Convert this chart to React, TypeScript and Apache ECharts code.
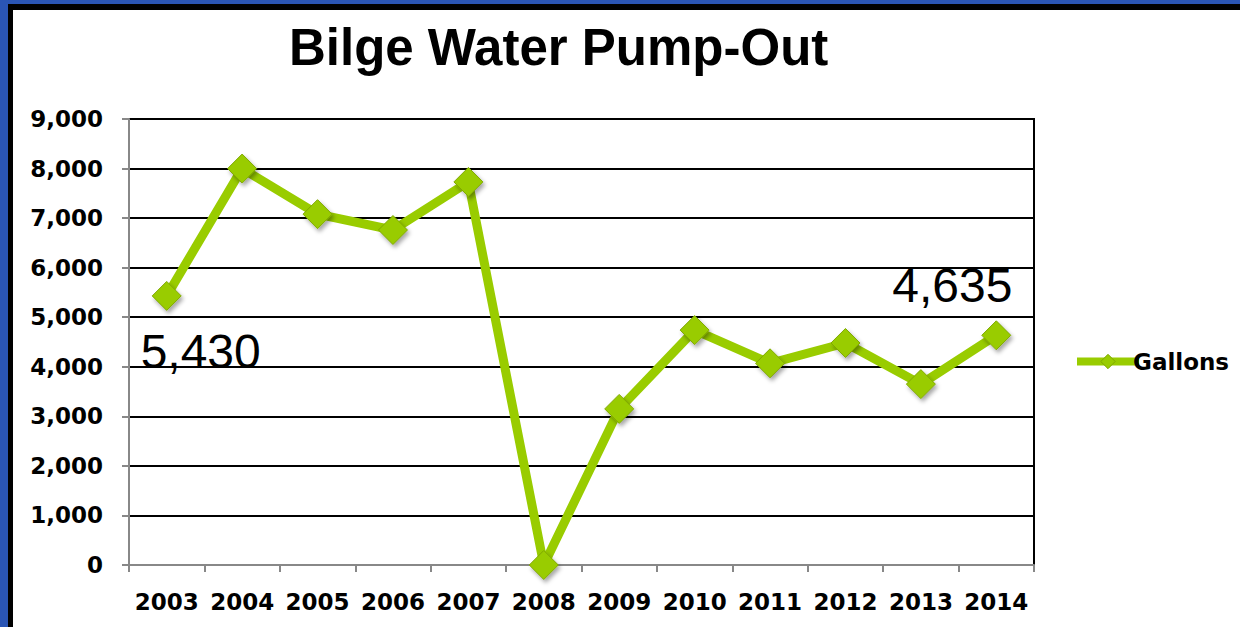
import React, { useEffect, useRef } from "react";
import * as echarts from "echarts";

const years = ["2003", "2004", "2005", "2006", "2007", "2008", "2009", "2010", "2011", "2012", "2013", "2014"];
const gallons = [5430, 8000, 7080, 6760, 7730, 0, 3150, 4740, 4070, 4480, 3650, 4635];
const yTicks = [0, 1000, 2000, 3000, 4000, 5000, 6000, 7000, 8000, 9000];
const labeledYears = ["2003", "2014"];

const GREEN = "#99cc00";

export default function App() {
  const ref = useRef<HTMLDivElement>(null);
  useEffect(() => {
    document.body.style.margin = "0";
    const chart = echarts.init(ref.current!, null, { renderer: "svg" });
    const data = gallons.map((v, i) => {
      const item: any = { value: v };
      if (labeledYears.includes(years[i])) {
        const first = i === 0;
        item.label = {
          show: true,
          position: "inside",
          offset: first ? [34, 56] : [-44, -50],
          formatter: (p: any) => Number(p.value).toLocaleString("en-US"),
          fontFamily: "Liberation Sans, Arial, sans-serif",
          fontSize: 48,
          color: "#000",
        };
      }
      return item;
    });
    chart.setOption({
      animation: false,
      title: {
        text: "Bilge Water Pump-Out",
        left: 284,
        top: 17,
        textStyle: {
          fontFamily: "Liberation Sans, Arial, sans-serif",
          fontWeight: "bold",
          fontSize: 51,
          color: "#000",
        },
      },
      legend: {
        left: 1068,
        top: 345,
        itemWidth: 62,
        itemHeight: 18,
        itemGap: 0,
        data: ["Gallons"],
        lineStyle: { width: 8, color: GREEN },
        itemStyle: { color: GREEN, borderColor: "#7fa800", borderWidth: 1, shadowBlur: 0 },
        textStyle: {
          fontFamily: "DejaVu Sans, Verdana, sans-serif",
          fontWeight: "bold",
          fontSize: 23,
          color: "#000",
          padding: [0, 0, 0, -11],
        },
      },
      grid: {
        left: 129,
        right: 206,
        top: 119,
        bottom: 62,
        show: true,
        borderColor: "#000",
        borderWidth: 2,
        backgroundColor: "transparent",
      },
      xAxis: {
        type: "category",
        data: years,
        boundaryGap: true,
        axisLine: { lineStyle: { color: "#888", width: 2 } },
        axisTick: { show: true, length: 7, alignWithLabel: false, lineStyle: { color: "#888", width: 2 } },
        axisLabel: {
          interval: 0,
          hideOverlap: false,
          margin: 25,
          fontFamily: "DejaVu Sans, Verdana, sans-serif",
          fontWeight: "bold",
          fontSize: 23,
          color: "#000",
        },
        splitLine: { show: false },
      },
      yAxis: {
        type: "value",
        min: yTicks[0],
        max: yTicks[yTicks.length - 1],
        interval: 1000,
        axisLine: { show: true, lineStyle: { color: "#888", width: 2 } },
        axisTick: { show: true, length: 7, lineStyle: { color: "#888", width: 2 } },
        axisLabel: {
          margin: 26,
          formatter: (v: number) => v.toLocaleString("en-US"),
          fontFamily: "DejaVu Sans, Verdana, sans-serif",
          fontWeight: "bold",
          fontSize: 23,
          color: "#000",
        },
        splitLine: { show: true, lineStyle: { color: "#000", width: 2 } },
      },
      series: [
        {
          name: "Gallons",
          type: "line",
          data,
          symbol: "diamond",
          symbolSize: 29,
          lineStyle: { color: GREEN, width: 9 },
          itemStyle: {
            color: GREEN,
            borderColor: "#7fa800",
            borderWidth: 1,
            shadowColor: "rgba(0,0,0,0.35)",
            shadowBlur: 4,
            shadowOffsetX: 2,
            shadowOffsetY: 3,
          },
          z: 3,
        },
      ],
    });
    return () => chart.dispose();
  }, []);
  return (
    <div style={{ position: "relative", width: 1240, height: 627, background: "#2a55b5", overflow: "hidden" }}>
      <div style={{ position: "absolute", left: 8, top: 4, right: 0, bottom: 0, background: "#000" }} />
      <div style={{ position: "absolute", left: 13, top: 10, right: 0, bottom: 0, background: "#fff" }} />
      <div ref={ref} style={{ position: "absolute", left: 0, top: 0, width: 1240, height: 627 }} />
    </div>
  );
}
